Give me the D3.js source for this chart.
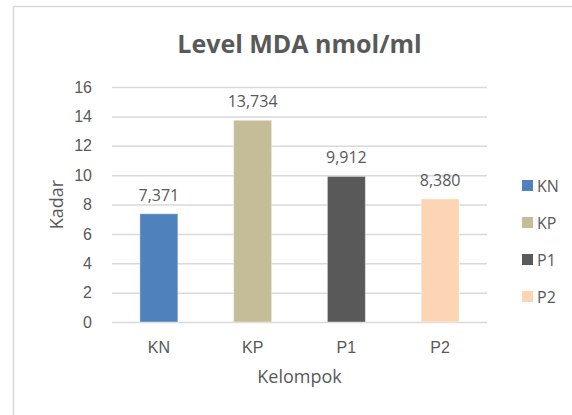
<!DOCTYPE html>
<html>
<head>
<meta charset="utf-8">
<script src="https://cdn.jsdelivr.net/npm/d3@7"></script>
<style>
  body { margin: 0; background: #fff; }
  svg { display: block; font-family: "Open Sans", sans-serif; }
  .tick text { fill: #595959; font-size: 16px; }
</style>
</head>
<body>
<svg id="chart" width="572" height="415"></svg>
<script>
// data
const categories = ['KN', 'KP', 'P1', 'P2'];
const values = [7.371, 13.734, 9.912, 8.380];
const colors = ['#4f81bd', '#c4bd97', '#595959', '#fcd5b5'];
const yTicks = [0, 2, 4, 6, 8, 10, 12, 14, 16];

const svg = d3.select('#chart');
const textColor = '#595959';

// cadre du graphique (bord haut et gauche visibles)
svg.append('rect')
  .attr('x', 13.5).attr('y', 6.5)
  .attr('width', 600).attr('height', 450)
  .attr('fill', '#fff')
  .attr('stroke', '#d9d9d9')
  .attr('stroke-width', 1.5);

const plot = { left: 112, right: 487, top: 87, bottom: 322 };

const x = d3.scaleBand()
  .domain(categories)
  .range([plot.left, plot.right])
  .paddingInner(0.595)
  .paddingOuter(0.2975);

const y = d3.scaleLinear()
  .domain([0, 16])
  .range([plot.bottom, plot.top]);

// titre
svg.append('text')
  .attr('x', (plot.left + plot.right) / 2)
  .attr('y', 53)
  .attr('text-anchor', 'middle')
  .attr('fill', textColor)
  .style('font-size', '25px')
  .style('font-weight', 'bold')
  .text('Level MDA nmol/ml');

// axe Y + grille
const yAxis = svg.append('g')
  .attr('transform', `translate(${plot.left},0)`)
  .call(d3.axisLeft(y)
    .tickValues(yTicks)
    .tickSizeInner(-(plot.right - plot.left))
    .tickSizeOuter(0)
    .tickPadding(20));
yAxis.select('.domain').remove();
yAxis.selectAll('.tick line').attr('stroke', '#d9d9d9').attr('stroke-width', 1.5);

// axe X
const xAxis = svg.append('g')
  .attr('transform', `translate(0,${plot.bottom})`)
  .call(d3.axisBottom(x).tickSize(0));
xAxis.select('.domain').remove();
xAxis.selectAll('.tick text').attr('y', 31).attr('dy', 0);

// barres
const data = categories.map((c, i) => ({ cat: c, value: values[i], color: colors[i] }));

svg.append('g')
  .selectAll('rect')
  .data(data)
  .join('rect')
  .attr('x', d => x(d.cat))
  .attr('y', d => y(d.value))
  .attr('width', x.bandwidth())
  .attr('height', d => y(0) - y(d.value))
  .attr('fill', d => d.color)
  .attr('stroke', '#ffffff')
  .attr('stroke-opacity', 0.4)
  .attr('stroke-width', 1);

// étiquettes de valeurs (virgule décimale)
const fmt = d3.formatLocale({ decimal: ',', thousands: '.', grouping: [3], currency: ['', ''] }).format('.3f');

svg.append('g')
  .selectAll('text')
  .data(data)
  .join('text')
  .attr('x', d => x(d.cat) + x.bandwidth() / 2)
  .attr('y', d => y(d.value) - 13)
  .attr('text-anchor', 'middle')
  .attr('fill', textColor)
  .style('font-size', '16px')
  .text(d => fmt(d.value));

// titres des axes
svg.append('text')
  .attr('transform', `translate(63,${(plot.top + plot.bottom) / 2}) rotate(-90)`)
  .attr('text-anchor', 'middle')
  .attr('fill', textColor)
  .style('font-size', '18px')
  .text('Kadar');

svg.append('text')
  .attr('x', (plot.left + plot.right) / 2)
  .attr('y', 383)
  .attr('text-anchor', 'middle')
  .attr('fill', textColor)
  .style('font-size', '18px')
  .text('Kelompok');

// légende
const legend = svg.append('g')
  .selectAll('g')
  .data(data)
  .join('g')
  .attr('transform', (d, i) => `translate(522,${185.5 + i * 37})`);

legend.append('rect')
  .attr('x', 0).attr('y', -5.5)
  .attr('width', 11).attr('height', 11)
  .attr('fill', d => d.color);

legend.append('text')
  .attr('x', 15)
  .attr('y', 6)
  .attr('fill', textColor)
  .style('font-size', '16px')
  .text(d => d.cat);
</script>
</body>
</html>
